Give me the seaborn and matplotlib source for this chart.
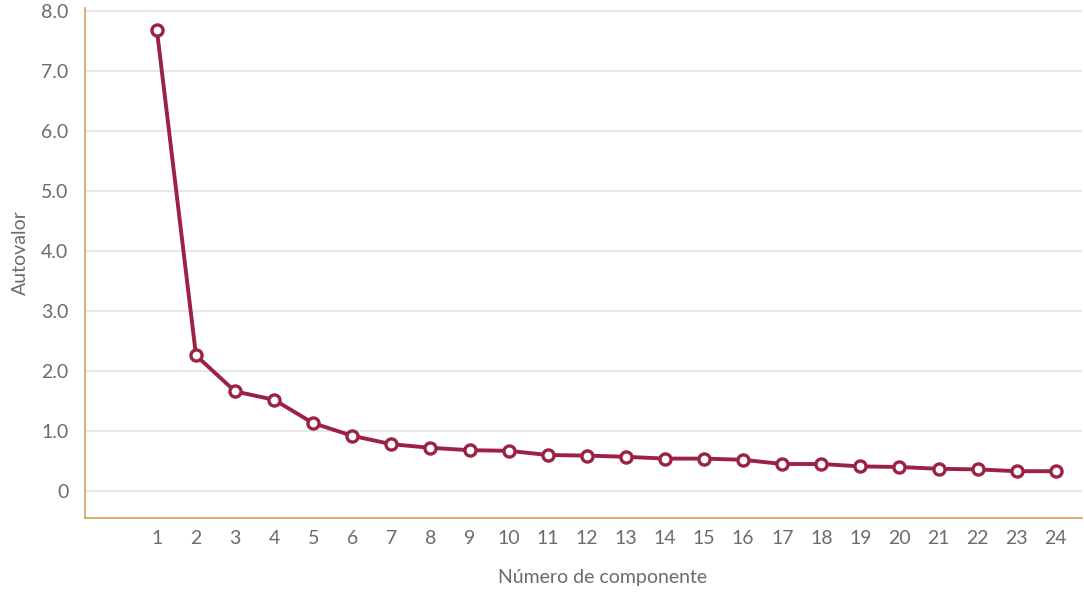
import matplotlib
matplotlib.use("Agg")
import matplotlib.pyplot as plt
import seaborn as sns
import pandas as pd

# Scree plot: eigenvalue per principal component
componentes = list(range(1, 25))
autovalores = [7.68, 2.26, 1.66, 1.52, 1.13, 0.92, 0.78, 0.72, 0.68, 0.67,
               0.60, 0.59, 0.57, 0.54, 0.54, 0.52, 0.45, 0.45, 0.41, 0.40,
               0.37, 0.36, 0.33, 0.33]
y_ticks = [0, 1, 2, 3, 4, 5, 6, 7, 8]
y_labels = ["0", "1.0", "2.0", "3.0", "4.0", "5.0", "6.0", "7.0", "8.0"]

sns.set_theme(style="white")
plt.rcParams["font.family"] = ["Lato", "DejaVu Sans"]

df = pd.DataFrame({"Componente": componentes, "Autovalor": autovalores})

LINE = "#9b2242"
AXIS = "#d4a05a"
TEXT = "#6b6b6b"

fig = plt.figure(figsize=(10.84, 5.92), dpi=100)
ax = fig.add_axes([85 / 1084, 74 / 592, 997 / 1084, 510 / 592])

sns.lineplot(data=df, x="Componente", y="Autovalor", ax=ax, color=LINE,
             linewidth=2.8, marker="o", markersize=8,
             markerfacecolor="white", markeredgecolor=LINE,
             markeredgewidth=2.4, zorder=3)

ax.set_xlim(-0.84, 24.67)
ax.set_ylim(-0.45, 8.05)
ax.set_xticks(componentes)
ax.set_xticklabels([str(c) for c in componentes])
ax.set_yticks(y_ticks)
ax.set_yticklabels(y_labels)

ax.yaxis.grid(True, color="#e3e3e3", linewidth=1.2)
ax.xaxis.grid(False)
ax.set_axisbelow(True)

for side in ["top", "right"]:
    ax.spines[side].set_visible(False)
for side in ["left", "bottom"]:
    ax.spines[side].set_color(AXIS)
    ax.spines[side].set_linewidth(1.2)

ax.tick_params(axis="both", length=0, labelsize=14, colors=TEXT)
ax.tick_params(axis="x", pad=9)
ax.tick_params(axis="y", pad=12)

ax.set_xlabel("Número de componente", fontsize=14, color=TEXT)
ax.set_ylabel("Autovalor", fontsize=14, color=TEXT)
# titles centred on the plotted range
ax.xaxis.set_label_coords(0.519, -0.1)
ax.yaxis.set_label_coords(-0.056, 0.52)

fig.savefig("out.png", dpi=100, facecolor="white")
